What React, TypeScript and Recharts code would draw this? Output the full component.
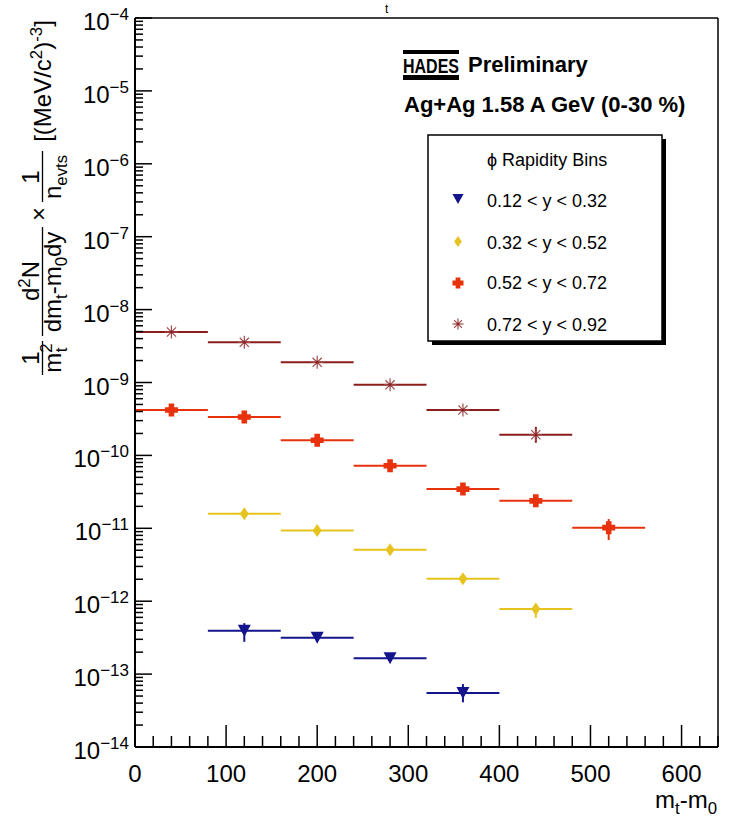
import React from 'react'
import { ScatterChart, Scatter, XAxis, YAxis, ErrorBar, ReferenceLine } from 'recharts'

// bins are 80 MeV wide, points sit at the bin centre
const BIN_HALF_WIDTH = 40

const MT_Y1 = [120, 200, 280, 360]
const DN_Y1 = [3.92e-13, 3.14e-13, 1.65e-13, 5.5e-14]
const ERR_Y1 = [[1.15e-13, 1.08e-13], [2.5e-14, 2.5e-14], [1.2e-14, 1.2e-14], [1.4e-14, 1.8e-14]]

const MT_Y2 = [120, 200, 280, 360, 440]
const DN_Y2 = [1.58e-11, 9.3e-12, 5.06e-12, 2.03e-12, 7.8e-13]
const ERR_Y2 = [[1.0e-12, 1.0e-12], [6e-13, 6e-13], [3e-13, 3e-13], [1.2e-13, 1.2e-13], [1.9e-13, 1.0e-13]]

const MT_Y3 = [40, 120, 200, 280, 360, 440, 520]
const DN_Y3 = [4.19e-10, 3.36e-10, 1.61e-10, 7.2e-11, 3.45e-11, 2.38e-11, 1.02e-11]
const ERR_Y3 = [[2e-11, 2e-11], [2e-11, 2e-11], [9e-12, 9e-12], [4e-12, 4e-12], [2e-12, 2e-12], [2e-12, 2e-12], [3.3e-12, 3.2e-12]]

const MT_Y4 = [40, 120, 200, 280, 360, 440]
const DN_Y4 = [4.93e-9, 3.56e-9, 1.89e-9, 9.3e-10, 4.19e-10, 1.92e-10]
const ERR_Y4 = [[2.5e-10, 2.5e-10], [1.8e-10, 1.8e-10], [1e-10, 1e-10], [5e-11, 5e-11], [2e-11, 2e-11], [4.3e-11, 5.5e-11]]

const LEGEND_LABELS = ['0.12 < y < 0.32', '0.32 < y < 0.52', '0.52 < y < 0.72', '0.72 < y < 0.92']

const X_TICKS = [0, 20, 40, 60, 80, 100, 120, 140, 160, 180, 200, 220, 240, 260, 280, 300, 320, 340,
  360, 380, 400, 420, 440, 460, 480, 500, 520, 540, 560, 580, 600, 620, 640]
const Y_DECADES = [-14, -13, -12, -11, -10, -9, -8, -7, -6, -5, -4]
const Y_TICKS = Y_DECADES.flatMap((e) =>
  e === -4 ? [1e-4] : [1, 2, 3, 4, 5, 6, 7, 8, 9].map((m) => m * Math.pow(10, e))
)

const BLUE = '#14148c'
const YELLOW = '#e6c31e'
const RED = '#e8320e'
const BROWN = '#8a1c1c'
const FONT = '"Liberation Sans", Arial, Helvetica, sans-serif'

const rows = (xs: number[], ys: number[], errs: number[][]) =>
  xs.map((x, i) => ({ x, y: ys[i], ex: BIN_HALF_WIDTH, ey: errs[i] }))

function TriangleDown({ cx, cy, s = 1 }: any) {
  const w = 6.5 * s
  const h = 6 * s
  return <path d={`M${cx - w},${cy - h}L${cx + w},${cy - h}L${cx},${cy + h}Z`} fill={BLUE} />
}

function Diamond({ cx, cy, s = 1 }: any) {
  const w = 4.5 * s
  const h = 6.5 * s
  return <path d={`M${cx},${cy - h}L${cx + w},${cy}L${cx},${cy + h}L${cx - w},${cy}Z`} fill={YELLOW} />
}

function Cross({ cx, cy, s = 1 }: any) {
  const a = 6.5 * s
  const t = 2.8 * s
  return (
    <path
      d={`M${cx - t},${cy - a}H${cx + t}V${cy - t}H${cx + a}V${cy + t}H${cx + t}V${cy + a}H${cx - t}V${cy + t}H${cx - a}V${cy - t}H${cx - t}Z`}
      fill={RED}
    />
  )
}

function Star({ cx, cy, s = 1 }: any) {
  const r = 6.5 * s
  const d = r * 0.707
  return (
    <g stroke="#a04a4c" strokeWidth={1.2}>
      <line x1={cx - r} y1={cy} x2={cx + r} y2={cy} />
      <line x1={cx} y1={cy - r} x2={cx} y2={cy + r} />
      <line x1={cx - d} y1={cy - d} x2={cx + d} y2={cy + d} />
      <line x1={cx - d} y1={cy + d} x2={cx + d} y2={cy - d} />
      <circle cx={cx} cy={cy} r={1.3} fill={BROWN} stroke="none" />
    </g>
  )
}

const SERIES = [
  { name: LEGEND_LABELS[0], data: rows(MT_Y1, DN_Y1, ERR_Y1), color: BLUE, Marker: TriangleDown },
  { name: LEGEND_LABELS[1], data: rows(MT_Y2, DN_Y2, ERR_Y2), color: YELLOW, Marker: Diamond },
  { name: LEGEND_LABELS[2], data: rows(MT_Y3, DN_Y3, ERR_Y3), color: RED, Marker: Cross },
  { name: LEGEND_LABELS[3], data: rows(MT_Y4, DN_Y4, ERR_Y4), color: BROWN, Marker: Star },
]

function XTick({ x, y, payload }: any) {
  const v = payload.value
  const major = v % 100 === 0
  return (
    <g>
      <line x1={x} x2={x} y1={y} y2={y - (major ? 22 : 11)} stroke="#000" strokeWidth={1.5} />
      {major && (
        <text x={x} y={y + 35} textAnchor="middle" fontSize={24} fontFamily={FONT} fill="#000">
          {v}
        </text>
      )}
    </g>
  )
}

function YTick({ x, y, payload }: any) {
  const e = Math.log10(payload.value)
  const major = Math.abs(e - Math.round(e)) < 1e-6
  return (
    <g>
      <line x1={x} x2={x + (major ? 17 : 8)} y1={y} y2={y} stroke="#000" strokeWidth={1.5} />
      {major && (
        <text x={129} y={y + 12} textAnchor="end" fontSize={24} fontFamily={FONT} fill="#000">
          10
          <tspan dy={-10} fontSize={17}>{'\u2212' + -Math.round(e)}</tspan>
        </text>
      )}
    </g>
  )
}

function YLabel() {
  // rotated frame: x runs upwards (x = -screenY), y runs to the right
  const sub = 16.8
  return (
    <g transform="rotate(-90)" fontSize={24} fontFamily={FONT} fill="#000">
      <text x={-358} y={39} textAnchor="middle">1</text>
      <line x1={-375} x2={-341} y1={42.5} y2={42.5} stroke="#000" strokeWidth={1.3} />
      <text x={-358} y={61} textAnchor="middle">
        m<tspan dy={-9} fontSize={sub}>2</tspan>
        <tspan dx={-9} dy={15} fontSize={sub}>t</tspan>
      </text>

      <text x={-281} y={39} textAnchor="middle">
        d<tspan dy={-9} fontSize={sub}>2</tspan>
        <tspan dy={9}>N</tspan>
      </text>
      <line x1={-336} x2={-227} y1={42.5} y2={42.5} stroke="#000" strokeWidth={1.3} />
      <text x={-282} y={61} textAnchor="middle">
        dm<tspan dy={6} fontSize={sub}>t</tspan>
        <tspan dy={-6}>-m</tspan>
        <tspan dy={6} fontSize={sub}>0</tspan>
        <tspan dy={-6}>dy</tspan>
      </text>

      <text x={-214} y={47} textAnchor="middle">{'\u00d7'}</text>

      <text x={-177} y={39} textAnchor="middle">1</text>
      <line x1={-202} x2={-151} y1={42.5} y2={42.5} stroke="#000" strokeWidth={1.3} />
      <text x={-177} y={61} textAnchor="middle">
        n<tspan dy={6} fontSize={sub}>evts</tspan>
      </text>

      <text x={-81} y={51} textAnchor="middle">
        [(MeV/c<tspan dy={-9} fontSize={sub}>2</tspan>
        <tspan dy={9}>)</tspan>
        <tspan dy={-9} fontSize={sub}>-3</tspan>
        <tspan dy={9}>]</tspan>
      </text>
    </g>
  )
}

function Overlay() {
  const rowsY = [199, 241.5, 283, 324]
  const textY = [207, 249, 289, 331]
  return (
    <svg width={730} height={822} style={{ position: 'absolute', left: 0, top: 0, pointerEvents: 'none' }}>
      <text x={385} y={13} fontSize={12} fontFamily={FONT}>t</text>

      {/* HADES logo */}
      <rect x={403} y={50} width={56} height={4} fill="#000" />
      <rect x={403} y={75} width={56} height={5} fill="#000" />
      <text x={403} y={73} fontSize={20} fontWeight={900} fontFamily={FONT} textLength={56} lengthAdjust="spacingAndGlyphs">
        HADES
      </text>
      <text x={468} y={72} fontSize={22} fontWeight={700} fontFamily={FONT}>Preliminary</text>
      <text x={404} y={112} fontSize={22} fontWeight={700} fontFamily={FONT}>Ag+Ag 1.58 A GeV (0-30 %)</text>

      {/* legend box with ROOT style shadow */}
      <rect x={432} y={139} width={234} height={206} fill="#000" />
      <rect x={428} y={135} width={234} height={206} fill="#fff" stroke="#000" strokeWidth={1.5} />
      <text x={487} y={166} fontSize={18} fontFamily={FONT}>{'\u03d5'} Rapidity Bins</text>
      {SERIES.map((s, i) => (
        <g key={s.name}>
          <s.Marker cx={458} cy={rowsY[i]} s={0.85} />
          <text x={487} y={textY[i]} fontSize={18} fontFamily={FONT}>{s.name}</text>
        </g>
      ))}

      <text x={717} y={808} textAnchor="end" fontSize={24} fontFamily={FONT}>
        m<tspan dy={6} fontSize={16.8}>t</tspan>
        <tspan dy={-6}>-m</tspan>
        <tspan dy={6} fontSize={16.8}>0</tspan>
      </text>

      <YLabel />
    </svg>
  )
}

export default function App() {
  return (
    <div style={{ position: 'absolute', left: 0, top: 0, width: 730, height: 822, background: '#fff', fontFamily: FONT }}>
      <ScatterChart width={730} height={822} margin={{ top: 18, right: 12, left: 0, bottom: 0 }}>
        <XAxis
          type="number"
          dataKey="x"
          domain={[0, 640]}
          ticks={X_TICKS}
          interval={0}
          height={75}
          tickSize={0}
          tickMargin={0}
          tick={(p: any) => <XTick {...p} />}
          axisLine={{ stroke: '#000', strokeWidth: 2 }}
          allowDataOverflow
        />
        <YAxis
          type="number"
          dataKey="y"
          scale="log"
          domain={[1e-14, 1e-4]}
          ticks={Y_TICKS}
          interval={0}
          width={135}
          tickSize={0}
          tickMargin={0}
          tick={(p: any) => <YTick {...p} />}
          axisLine={{ stroke: '#000', strokeWidth: 2 }}
          allowDataOverflow
        />
        <ReferenceLine y={1e-4} stroke="#000" strokeWidth={1.5} />
        <ReferenceLine x={640} stroke="#000" strokeWidth={1.5} />
        {SERIES.map((s) => (
          <Scatter
            key={s.name}
            name={s.name}
            data={s.data}
            isAnimationActive={false}
            shape={(p: any) => <s.Marker cx={p.cx} cy={p.cy} />}
          >
            <ErrorBar dataKey="ex" direction="x" width={0} stroke={s.color} strokeWidth={2} />
            <ErrorBar dataKey="ey" direction="y" width={0} stroke={s.color} strokeWidth={2} />
          </Scatter>
        ))}
      </ScatterChart>
      <Overlay />
    </div>
  )
}
